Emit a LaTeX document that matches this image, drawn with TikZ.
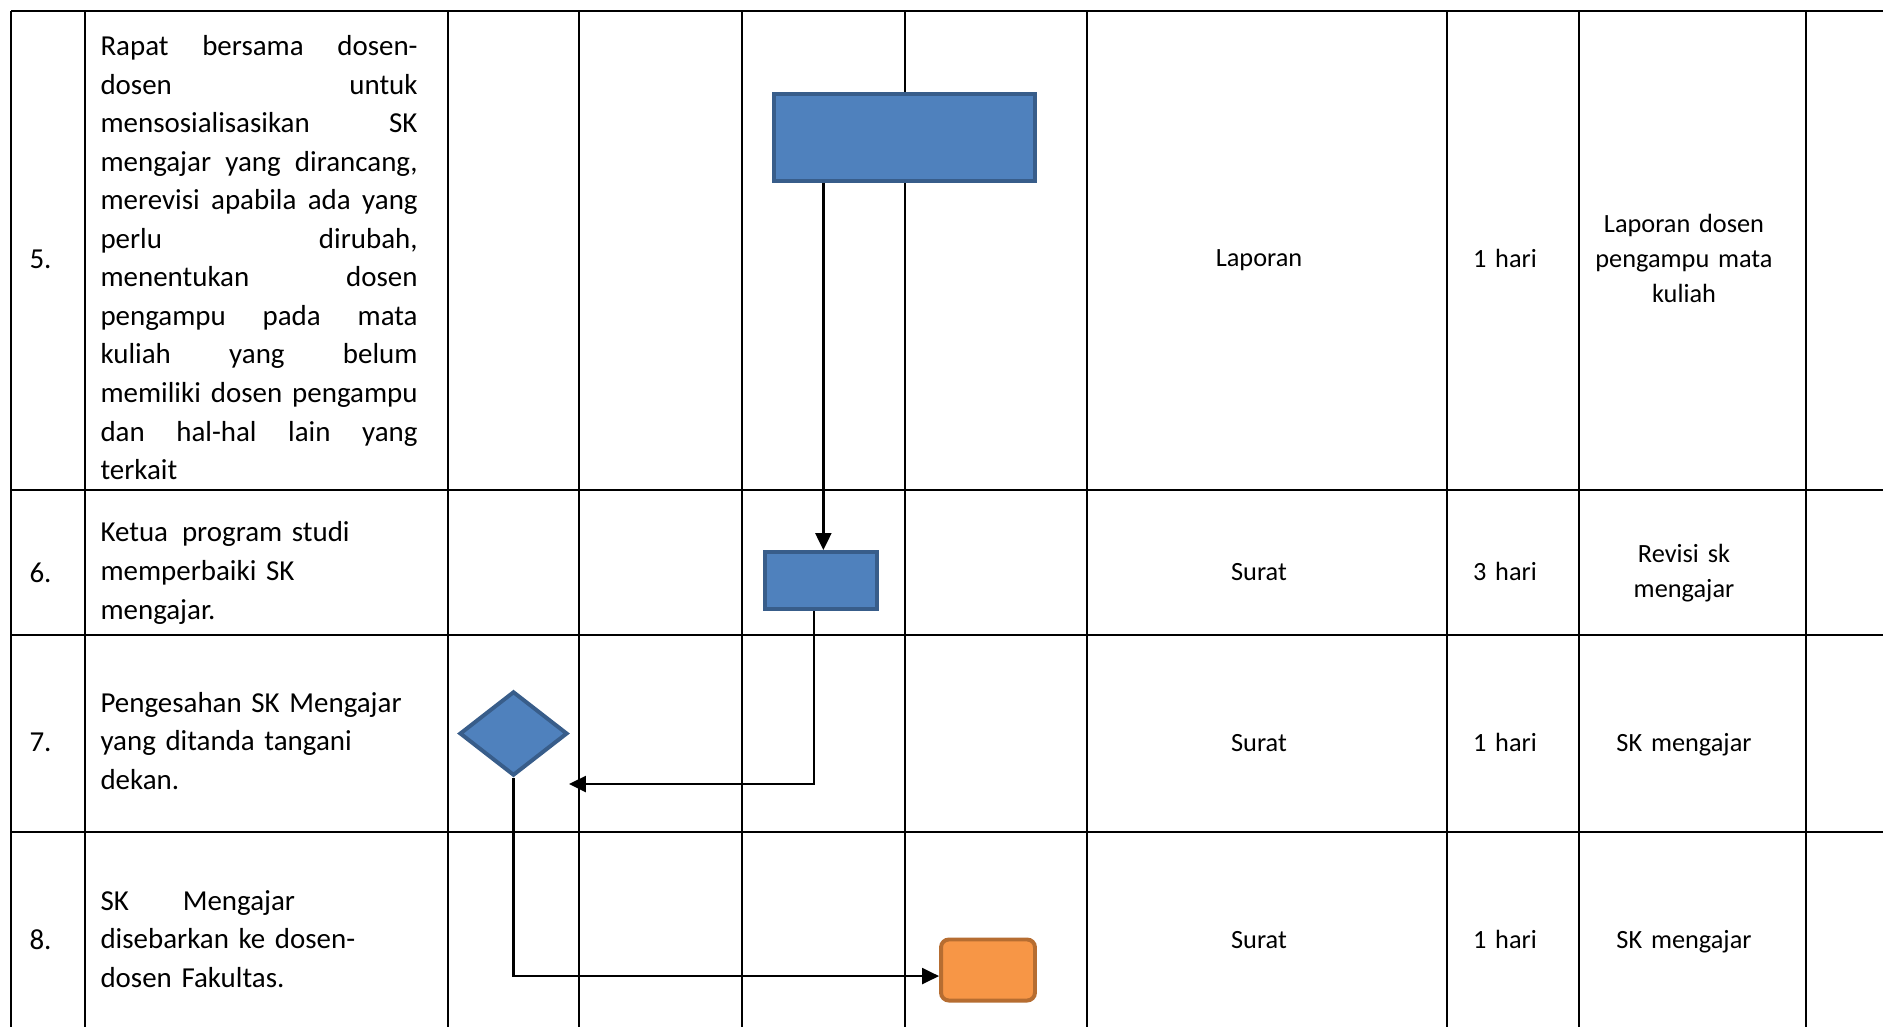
\documentclass[tikz,border=0pt]{standalone}
\usepackage{fontspec}
\setmainfont{Carlito}
\usetikzlibrary{arrows.meta,shapes.geometric}
\definecolor{wdblue}{RGB}{79,129,189}
\definecolor{wdblueline}{RGB}{56,93,138}
\definecolor{wdorange}{RGB}{247,150,70}
\definecolor{wdorangeline}{RGB}{182,109,49}
\tikzstyle{grid} = [line width=0.85pt, color=black]
\tikzstyle{process} = [rectangle, draw=wdblueline, fill=wdblue, line width=1.5pt, inner sep=0pt]
\tikzstyle{decision} = [diamond, draw=wdblueline, fill=wdblue, line width=1.5pt, inner sep=0pt]
\tikzstyle{finish} = [rectangle, rounded corners=3pt, draw=wdorangeline, fill=wdorange, line width=1.5pt, inner sep=0pt]
\tikzstyle{flow} = [line width=1.05pt, ->, >={Triangle[length=6.4pt,width=6pt]}]
\tikzstyle{stepno} = [anchor=base west, inner sep=0pt, font=\fontsize{11}{14.75}\selectfont]
\tikzstyle{steptext} = [anchor=base west, inner sep=0pt, text width=120.5pt, font=\fontsize{11}{14.75}\selectfont]
\tikzstyle{info} = [anchor=base, inner sep=0pt, text width=84pt, align=center, font=\fontsize{10}{13.3}\selectfont]
\tolerance=10000
\hbadness=10000
\hyphenpenalty=10000
\exhyphenpenalty=10000

\begin{document}
\begin{tikzpicture}[x=0.38pt, y=-0.38pt]
    \useasboundingbox (0,0) rectangle (1883,1027);

    % Table rows
    \draw[grid] (11,11) -- (1883,11);
    \draw[grid] (11,490) -- (1883,490);
    \draw[grid] (11,635) -- (1883,635);
    \draw[grid] (11,832) -- (1883,832);
    % Table columns
    \draw[grid] (11,11) -- (11,1027);
    \draw[grid] (85,11) -- (85,1027);
    \draw[grid] (448,11) -- (448,1027);
    \draw[grid] (579,11) -- (579,1027);
    \draw[grid] (742,11) -- (742,1027);
    \draw[grid] (905,11) -- (905,1027);
    \draw[grid] (1087,11) -- (1087,1027);
    \draw[grid] (1447,11) -- (1447,1027);
    \draw[grid] (1579,11) -- (1579,1027);
    \draw[grid] (1806,11) -- (1806,1027);

    % Step 5
    \node[stepno] (no5) at (29,268) {5.};
    \node[steptext, align=justify, font=\fontsize{11}{14.65}\selectfont] (txt5) at (100,55.5) {Rapat bersama dosen-\linebreak
        dosen untuk\linebreak
        mensosialisasikan SK\linebreak
        mengajar yang dirancang,\linebreak
        merevisi apabila ada yang\linebreak
        perlu dirubah,\linebreak
        menentukan dosen\linebreak
        pengampu pada mata\linebreak
        kuliah yang belum\linebreak
        memiliki dosen pengampu\linebreak
        dan hal-hal lain yang\linebreak
        terkait};
    \node[info] (doc5) at (1259,266.5) {Laporan};
    \node[info] (time5) at (1505,267.5) {1 hari};
    \node[info] (out5) at (1684,232.5) {Laporan dosen\\pengampu mata\\kuliah};

    % Step 6
    \node[stepno] (no6) at (29,582) {6.};
    \node[steptext, align=left] (txt6) at (100,541.5) {Ketua\hspace{5.3pt}program studi\\memperbaiki SK\\mengajar.};
    \node[info] (doc6) at (1259,580) {Surat};
    \node[info] (time6) at (1505,580) {3 hari};
    \node[info] (out6) at (1684,562) {Revisi sk\\mengajar};

    % Step 7
    \node[stepno] (no7) at (29,751.5) {7.};
    \node[steptext, align=left] (txt7) at (100,712) {Pengesahan SK Mengajar\\yang ditanda tangani\\dekan.};
    \node[info] (doc7) at (1259,751) {Surat};
    \node[info] (time7) at (1505,751) {1 hari};
    \node[info] (out7) at (1684,751) {SK mengajar};

    % Step 8
    \node[stepno] (no8) at (29,949) {8.};
    \node[steptext, align=left] (txt8) at (100,910) {SK\hspace{20.5pt}Mengajar\\disebarkan ke dosen-\\dosen Fakultas.};
    \node[info] (doc8) at (1259,948) {Surat};
    \node[info] (time8) at (1505,948) {1 hari};
    \node[info] (out8) at (1684,948) {SK mengajar};

    % Flow symbols
    \node[process, minimum width=99.2pt, minimum height=32.9pt] (s5) at (904.5,137.5) {};
    \node[process, minimum width=42.9pt, minimum height=21.7pt] (s6) at (821,580.5) {};
    \node[decision, minimum width=41pt, minimum height=32pt] (s7) at (513.5,733.5) {};
    \node[finish, minimum width=35.7pt, minimum height=23.2pt] (s8) at (988,970) {};
    \coordinate (back7) at (569,784);

    % Flow lines
    \draw[flow] ([xshift=0.9pt]s6.north |- s5.south) -- ([xshift=0.9pt]s6.north);
    \draw[flow] ([xshift=-2.7pt]s6.south) |- (back7);
    \draw[flow] (s7.south) |- ([yshift=-2.3pt]s8.west);
\end{tikzpicture}
\end{document}
